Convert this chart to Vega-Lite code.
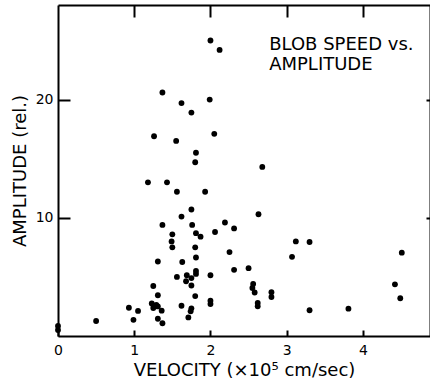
{
  "$schema": "https://vega.github.io/schema/vega-lite/v6.json",
  "autosize": {"type": "none"},
  "padding": {"left": 58, "top": 5, "right": 0, "bottom": 47},
  "width": 372,
  "height": 331,
  "background": "white",
  "config": {
    "view": {"stroke": null},
    "axis": {
      "grid": false,
      "domainColor": "black",
      "domainWidth": 2,
      "tickColor": "black",
      "tickWidth": 2,
      "labelFont": "DejaVu Sans",
      "labelFontSize": 14,
      "labelColor": "black",
      "titleFont": "DejaVu Sans",
      "titleFontSize": 18,
      "titleFontWeight": "normal",
      "titleColor": "black"
    }
  },
  "datasets": {
    "pts": [
      {"velocity": 2.00, "amplitude": 25.0},
      {"velocity": 2.12, "amplitude": 24.2},
      {"velocity": 1.37, "amplitude": 20.6},
      {"velocity": 1.99, "amplitude": 20.0},
      {"velocity": 1.62, "amplitude": 19.7},
      {"velocity": 1.75, "amplitude": 18.9},
      {"velocity": 1.26, "amplitude": 16.9},
      {"velocity": 2.05, "amplitude": 17.1},
      {"velocity": 1.55, "amplitude": 16.5},
      {"velocity": 1.81, "amplitude": 15.5},
      {"velocity": 1.80, "amplitude": 14.7},
      {"velocity": 2.68, "amplitude": 14.3},
      {"velocity": 1.18, "amplitude": 13.0},
      {"velocity": 1.43, "amplitude": 13.0},
      {"velocity": 1.56, "amplitude": 12.2},
      {"velocity": 1.93, "amplitude": 12.2},
      {"velocity": 1.75, "amplitude": 10.7},
      {"velocity": 1.62, "amplitude": 10.1},
      {"velocity": 2.63, "amplitude": 10.3},
      {"velocity": 1.37, "amplitude": 9.4},
      {"velocity": 1.76, "amplitude": 9.4},
      {"velocity": 2.19, "amplitude": 9.6},
      {"velocity": 2.31, "amplitude": 9.1},
      {"velocity": 1.81, "amplitude": 8.7},
      {"velocity": 2.06, "amplitude": 8.8},
      {"velocity": 1.87, "amplitude": 8.4},
      {"velocity": 1.50, "amplitude": 8.6},
      {"velocity": 1.49, "amplitude": 8.0},
      {"velocity": 1.50, "amplitude": 7.5},
      {"velocity": 1.80, "amplitude": 7.5},
      {"velocity": 3.12, "amplitude": 8.0},
      {"velocity": 3.30, "amplitude": 7.95},
      {"velocity": 2.25, "amplitude": 7.1},
      {"velocity": 3.07, "amplitude": 6.7},
      {"velocity": 4.51, "amplitude": 7.05},
      {"velocity": 1.31, "amplitude": 6.3},
      {"velocity": 1.63, "amplitude": 6.26},
      {"velocity": 1.81, "amplitude": 6.64},
      {"velocity": 2.31, "amplitude": 5.6},
      {"velocity": 2.50, "amplitude": 5.74},
      {"velocity": 1.81, "amplitude": 5.5},
      {"velocity": 1.81, "amplitude": 5.25},
      {"velocity": 1.69, "amplitude": 5.14},
      {"velocity": 1.56, "amplitude": 5.0},
      {"velocity": 2.00, "amplitude": 5.14},
      {"velocity": 1.75, "amplitude": 4.9},
      {"velocity": 1.68, "amplitude": 4.63},
      {"velocity": 1.75, "amplitude": 4.27},
      {"velocity": 1.25, "amplitude": 4.23},
      {"velocity": 2.56, "amplitude": 4.4},
      {"velocity": 2.55, "amplitude": 4.06},
      {"velocity": 2.58, "amplitude": 3.68},
      {"velocity": 2.80, "amplitude": 3.7},
      {"velocity": 2.80, "amplitude": 3.3},
      {"velocity": 4.42, "amplitude": 4.37},
      {"velocity": 4.49, "amplitude": 3.19},
      {"velocity": 1.31, "amplitude": 3.45},
      {"velocity": 1.80, "amplitude": 3.38},
      {"velocity": 2.00, "amplitude": 2.99},
      {"velocity": 2.00, "amplitude": 2.71},
      {"velocity": 2.62, "amplitude": 2.79},
      {"velocity": 2.62, "amplitude": 2.52},
      {"velocity": 1.23, "amplitude": 2.75},
      {"velocity": 1.29, "amplitude": 2.64},
      {"velocity": 1.31, "amplitude": 2.5},
      {"velocity": 1.25, "amplitude": 2.37},
      {"velocity": 1.62, "amplitude": 2.56},
      {"velocity": 1.75, "amplitude": 2.34},
      {"velocity": 1.74, "amplitude": 2.09},
      {"velocity": 0.93, "amplitude": 2.39},
      {"velocity": 1.05, "amplitude": 2.12},
      {"velocity": 1.36, "amplitude": 2.14},
      {"velocity": 0.99, "amplitude": 1.37},
      {"velocity": 1.31, "amplitude": 1.46},
      {"velocity": 1.71, "amplitude": 1.57},
      {"velocity": 1.37, "amplitude": 1.08},
      {"velocity": 0.50, "amplitude": 1.27},
      {"velocity": 3.30, "amplitude": 2.18},
      {"velocity": 3.81, "amplitude": 2.31},
      {"velocity": 0.0, "amplitude": 0.85},
      {"velocity": 0.0, "amplitude": 0.51}
    ],
    "note": [{"label": ["BLOB SPEED vs.", "AMPLITUDE"]}]
  },
  "layer": [
    {
      "data": {"name": "pts"},
      "mark": {"type": "point", "filled": true, "shape": "circle", "color": "black", "size": 34, "opacity": 1},
      "encoding": {
        "x": {
          "field": "velocity", "type": "quantitative",
          "scale": {"domain": [0, 4.88], "nice": false, "zero": false},
          "axis": {"orient": "bottom", "values": [0, 1, 2, 3, 4], "tickSize": -6, "labelPadding": 13, "labelFlush": false, "format": "d", "title": "VELOCITY (×10⁵ cm/sec)", "titlePadding": 4}
        },
        "y": {
          "field": "amplitude", "type": "quantitative",
          "scale": {"domain": [0, 28], "nice": false, "zero": false},
          "axis": {"orient": "left", "values": [10, 20], "tickSize": -12, "labelPadding": 17, "format": "d", "title": "AMPLITUDE (rel.)", "titlePadding": 6}
        }
      }
    },
    {
      "data": {"name": "pts"},
      "mark": {"type": "point", "opacity": 0},
      "encoding": {
        "x": {"field": "velocity", "type": "quantitative", "axis": {"orient": "top", "values": [1, 2, 3, 4], "tickSize": -12, "labels": false, "title": null}},
        "y": {"field": "amplitude", "type": "quantitative", "axis": {"orient": "right", "values": [10, 20], "tickSize": -4, "labels": false, "title": null}}
      }
    },
    {
      "data": {"name": "note"},
      "mark": {"type": "text", "align": "left", "baseline": "alphabetic", "font": "DejaVu Sans", "fontSize": 18, "lineHeight": 20, "color": "black"},
      "encoding": {
        "x": {"datum": 2.77, "type": "quantitative", "axis": null},
        "y": {"datum": 24.2, "type": "quantitative", "axis": null},
        "text": {"field": "label"}
      }
    }
  ],
  "resolve": {"axis": {"x": "independent", "y": "independent"}}
}
